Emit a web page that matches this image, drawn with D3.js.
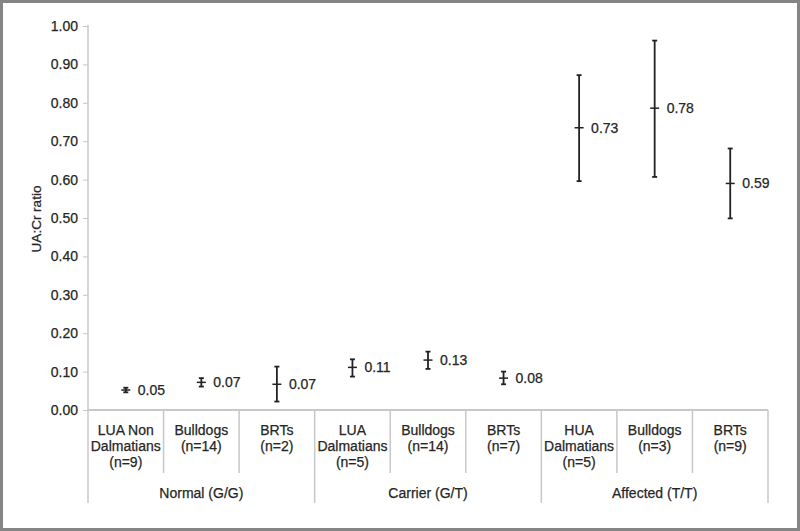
<!DOCTYPE html>
<html>
<head>
<meta charset="utf-8">
<script src="https://cdn.jsdelivr.net/npm/d3@7"></script>
<style>
  html, body { margin: 0; padding: 0; background: #fff; }
  svg { display: block; }
  text { font-family: "Liberation Sans", Arial, sans-serif; fill: #262626; stroke: #262626; stroke-width: 0.25px; }
</style>
</head>
<body>
<svg id="chart" width="800" height="531"></svg>
<script>
// ---- data ----
const categories = [
  ["LUA Non", "Dalmatians", "(n=9)"],
  ["Bulldogs", "(n=14)"],
  ["BRTs", "(n=2)"],
  ["LUA", "Dalmatians", "(n=5)"],
  ["Bulldogs", "(n=14)"],
  ["BRTs", "(n=7)"],
  ["HUA", "Dalmatians", "(n=5)"],
  ["Bulldogs", "(n=3)"],
  ["BRTs", "(n=9)"]
];
const groups = ["Normal (G/G)", "Carrier (G/T)", "Affected (T/T)"];
const groupOf = [0, 0, 0, 1, 1, 1, 2, 2, 2];
const means = [0.052, 0.072, 0.067, 0.111, 0.130, 0.083, 0.735, 0.786, 0.590];
const lower = [0.046, 0.061, 0.022, 0.087, 0.107, 0.067, 0.596, 0.607, 0.499];
const upper = [0.058, 0.083, 0.113, 0.132, 0.152, 0.100, 0.872, 0.962, 0.681];
const valueLabels = ["0.05", "0.07", "0.07", "0.11", "0.13", "0.08", "0.73", "0.78", "0.59"];
const yTicks = [0, 0.1, 0.2, 0.3, 0.4, 0.5, 0.6, 0.7, 0.8, 0.9, 1.0];
const yTitle = "UA:Cr ratio";

(function () {
// ---- layout ----
const svg = d3.select("#chart");
const W = 800, H = 531;
const mLeft = 88, mRight = 768, mTop = 26, mBottom = 410;
const axisColor = "#c8c8c8";
const fs = "14px";

// frame
svg.append("rect").attr("x", 1.5).attr("y", 1.5).attr("width", W - 3).attr("height", H - 3)
  .attr("fill", "#fff").attr("stroke", "#858585").attr("stroke-width", 3);

const x = d3.scaleBand().domain(d3.range(categories.length)).range([mLeft, mRight]).padding(0);
const y = d3.scaleLinear().domain([0, 1]).range([mBottom, mTop]);

// y axis
const yAxis = d3.axisLeft(y).tickValues(yTicks).tickFormat(d3.format(".2f")).tickSize(5).tickPadding(5);
const gy = svg.append("g").attr("transform", `translate(${mLeft},0)`).call(yAxis);
gy.select(".domain").remove();
gy.selectAll(".tick line").attr("stroke", axisColor);
gy.selectAll(".tick text").style("font-size", fs).attr("fill", null);
svg.append("line").attr("x1", mLeft).attr("x2", mLeft).attr("y1", mTop - 1).attr("y2", 503)
  .attr("stroke", axisColor).attr("stroke-width", 1.5);

// x axis baseline
svg.append("line").attr("x1", mLeft).attr("x2", mRight).attr("y1", mBottom).attr("y2", mBottom)
  .attr("stroke", axisColor).attr("stroke-width", 2);

// category dividers
categories.forEach((c, i) => {
  const xr = x(i) + x.bandwidth();
  const isGroupEnd = i === categories.length - 1 || groupOf[i] !== groupOf[i + 1];
  svg.append("line").attr("x1", xr).attr("x2", xr).attr("y1", mBottom).attr("y2", isGroupEnd ? 503 : 473)
    .attr("stroke", axisColor).attr("stroke-width", 1.5);
});

// category labels
categories.forEach((c, i) => {
  const t = svg.append("text").attr("x", x(i) + x.bandwidth() / 2).attr("y", 435)
    .attr("text-anchor", "middle").style("font-size", fs);
  c.forEach((line, k) => {
    t.append("tspan").attr("x", x(i) + x.bandwidth() / 2).attr("dy", k === 0 ? 0 : 16).text(line);
  });
});

// group labels
groups.forEach((g, gi) => {
  const idx = groupOf.map((v, i) => v === gi ? i : -1).filter(i => i >= 0);
  const x0 = x(idx[0]), x1 = x(idx[idx.length - 1]) + x.bandwidth();
  svg.append("text").attr("x", (x0 + x1) / 2).attr("y", 498).attr("text-anchor", "middle")
    .style("font-size", fs).text(g);
});

// y title
svg.append("text").attr("transform", `translate(41,219) rotate(-90)`)
  .attr("text-anchor", "middle").style("font-size", "13.5px").text(yTitle);

// error bars
const g = svg.append("g");
means.forEach((m, i) => {
  const cx = x(i) + x.bandwidth() / 2;
  g.append("line").attr("x1", cx).attr("x2", cx).attr("y1", y(upper[i])).attr("y2", y(lower[i]))
    .attr("stroke", "#222").attr("stroke-width", 1.8);
  [upper[i], lower[i]].forEach(v => {
    g.append("line").attr("x1", cx - 2.5).attr("x2", cx + 2.5).attr("y1", y(v)).attr("y2", y(v))
      .attr("stroke", "#222").attr("stroke-width", 1.8);
  });
  g.append("line").attr("x1", cx - 4.5).attr("x2", cx + 4.5).attr("y1", y(m)).attr("y2", y(m))
    .attr("stroke", "#222").attr("stroke-width", 1.5);
  g.append("text").attr("x", cx + 12).attr("y", y(m)).attr("dy", "0.35em")
    .style("font-size", fs).text(valueLabels[i]);
});
})();
</script>
</body>
</html>
